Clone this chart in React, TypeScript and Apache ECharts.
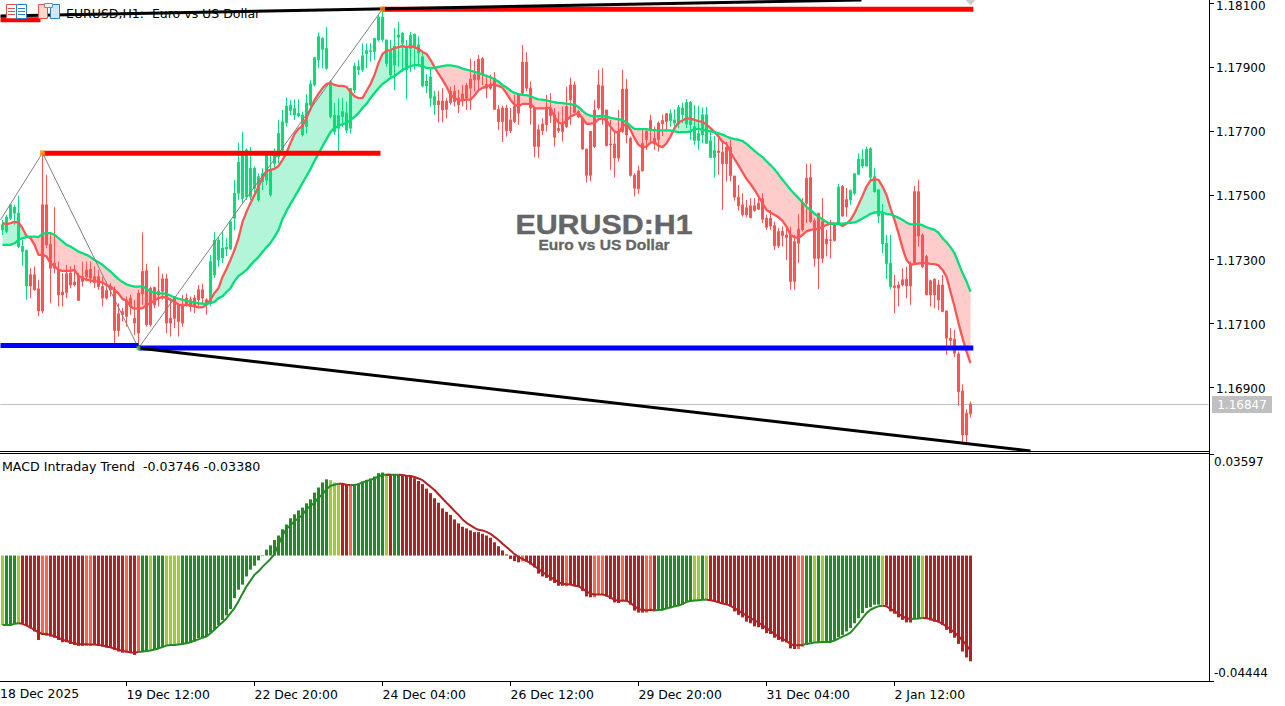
import React, { useEffect, useRef } from "react";
import * as echarts from "echarts";

const FONT = "DejaVu Sans";
const UP = "#00DF78";
const DOWN = "#FF5252";

// prices in 1/100000
const highs = [117423,117439,117473,117470,117498,117361,117330,117272,117278,117236,117629,117564,117382,117463,117293,117257,117283,117278,117283,117257,117293,117293,117293,117278,117267,117246,117231,117226,117215,117163,117148,117184,117189,117174,117205,117384,117286,117215,117215,117278,117255,117255,117179,117184,117163,117189,117194,117184,117189,117220,117224,117179,117314,
117385,117370,117385,117366,117423,117547,117664,117697,117646,117651,117589,117568,117584,117636,117631,117646,117735,117766,117805,117797,117799,117799,117761,117815,117859,117932,118008,117993,118024,117859,117787,117802,117804,117792,117833,117913,117922,117974,117974,117974,117991,118062,118078,117986,117984,118021,118041,118010,117984,118010,118005,117995,117943,117878,
117896,117826,117826,117834,117803,117839,117844,117829,117844,117850,117926,117919,117938,117931,117876,117876,117884,117782,117779,117782,117772,117813,117818,117969,117946,117855,117777,117720,117740,117813,117818,117772,117761,117777,117839,117867,117855,117766,117740,117644,117699,117796,117891,117896,117766,117735,117699,117766,117891,117862,117683,117569,117592,117704,117709,117751,117714,117730,117751,117756,117768,117768,117782,117789,117800,117794,117782,117779,117774,117775,117704,117685,117678,
117667,117667,117673,117560,117532,117506,117485,117491,117491,117491,117506,117439,117454,117418,117397,117402,117397,117402,117376,117441,117491,117598,117598,117428,117444,117491,117392,117423,117413,117535,117532,117522,117517,117569,117631,117643,117652,117650,117584,117517,117473,117376,117376,117251,117231,117272,117277,117293,117529,117548,117381,117314,117236,117241,117236,117251,117139,117085,117080,117012,116910,116832,116856];
const bodyTops = [117408,117432,117470,117463,117444,117340,117328,117252,117252,117208,117470,117470,117347,117288,117267,117198,117255,117257,117229,117250,117246,117267,117269,117246,117246,117215,117203,117215,117205,117130,117137,117168,117179,117116,117194,117262,117264,117210,117212,117200,117239,117239,117116,117179,117158,117158,117179,117174,117179,117205,117205,117174,117293,
117360,117360,117335,117338,117417,117506,117603,117636,117641,117584,117584,117558,117568,117625,117579,117625,117693,117729,117778,117781,117771,117755,117750,117787,117847,117929,117995,117989,117958,117854,117750,117748,117761,117757,117833,117903,117901,117935,117951,117951,117989,118055,118055,117984,117948,117965,118000,118005,117963,117998,118002,117969,117932,117856,
117869,117808,117794,117794,117794,117824,117824,117803,117816,117842,117862,117876,117924,117926,117846,117846,117865,117768,117772,117772,117735,117777,117813,117915,117915,117834,117772,117704,117722,117772,117772,117751,117709,117725,117777,117844,117844,117761,117740,117644,117699,117766,117844,117841,117766,117660,117660,117699,117831,117831,117678,117562,117576,117662,117699,117733,117678,117725,117733,117754,117754,117735,117774,117772,117789,117790,117714,117692,117751,117751,117670,117640,117638,
117634,117650,117650,117560,117494,117470,117461,117467,117467,117475,117489,117428,117428,117405,117387,117387,117376,117374,117355,117394,117477,117553,117555,117420,117444,117418,117363,117361,117407,117525,117527,117487,117515,117567,117612,117612,117643,117645,117558,117517,117444,117350,117288,117217,117220,117236,117238,117286,117511,117511,117376,117309,117233,117238,117220,117220,117139,117054,117051,117005,116889,116820,116849];
const bodyBottoms = [117392,117387,117428,117444,117340,117324,117217,117217,117205,117139,117139,117345,117272,117272,117189,117189,117196,117220,117220,117172,117231,117246,117241,117228,117215,117179,117179,117205,117078,117078,117127,117122,117153,117101,117070,117192,117096,117096,117158,117189,117200,117101,117101,117116,117106,117101,117158,117153,117153,117174,117179,117163,117163,
117251,117298,117304,117332,117332,117428,117506,117490,117495,117495,117521,117485,117542,117547,117501,117599,117620,117641,117726,117764,117750,117748,117688,117714,117781,117844,117922,117955,117896,117745,117698,117709,117745,117703,117709,117828,117891,117891,117941,117948,117948,117984,117986,117911,117875,117906,117993,117974,117891,117958,117963,117943,117841,117841,
117803,117782,117782,117766,117768,117789,117792,117782,117796,117803,117834,117860,117860,117876,117834,117834,117768,117730,117730,117701,117701,117730,117756,117818,117834,117772,117652,117652,117701,117720,117748,117681,117701,117699,117714,117798,117758,117744,117644,117562,117562,117652,117772,117746,117655,117657,117616,117616,117699,117688,117562,117522,117520,117576,117673,117704,117660,117673,117723,117730,117733,117725,117722,117751,117722,117720,117671,117671,117688,117662,117618,117618,117633,
117598,117598,117561,117494,117467,117439,117439,117430,117452,117456,117425,117400,117404,117342,117342,117374,117368,117231,117231,117350,117392,117475,117418,117303,117303,117303,117348,117359,117359,117411,117435,117463,117485,117506,117565,117591,117591,117556,117511,117435,117348,117286,117215,117212,117210,117220,117217,117217,117286,117373,117277,117189,117189,117189,117173,117137,117054,117047,117007,116887,116752,116752,116818];
const lows = [117376,117382,117423,117408,117335,117280,117174,117179,117202,117122,117132,117335,117163,117257,117153,117153,117179,117210,117215,117172,117215,117231,117226,117210,117205,117153,117174,117184,117038,117059,117106,117090,117127,117064,117028,117158,117090,117090,117148,117153,117174,117070,117059,117085,117059,117090,117153,117137,117132,117153,117163,117127,117153,
117242,117276,117288,117310,117329,117391,117485,117475,117485,117485,117495,117480,117516,117532,117495,117579,117599,117631,117714,117750,117735,117743,117683,117693,117776,117839,117896,117896,117891,117740,117688,117636,117714,117693,117693,117818,117875,117885,117896,117917,117922,117979,117979,117901,117865,117828,117901,117885,117799,117885,117891,117901,117837,117818,
117776,117751,117727,117727,117740,117782,117777,117756,117777,117766,117766,117824,117829,117844,117803,117829,117766,117704,117666,117683,117694,117725,117720,117813,117824,117720,117619,117616,117688,117699,117725,117652,117694,117668,117709,117720,117756,117740,117642,117540,117543,117647,117766,117720,117652,117579,117555,117605,117694,117662,117558,117496,117504,117574,117642,117662,117642,117636,117685,117699,117714,117704,117709,117725,117709,117673,117657,117642,117662,117660,117616,117555,117564,
117454,117543,117543,117483,117452,117433,117431,117428,117449,117454,117413,117392,117392,117329,117335,117340,117298,117205,117205,117288,117387,117413,117413,117277,117207,117288,117309,117303,117355,117407,117433,117433,117470,117501,117563,117584,117591,117550,117508,117413,117319,117238,117207,117132,117153,117215,117179,117158,117283,117340,117272,117189,117153,117147,117142,117135,117002,117028,116995,116843,116728,116728,116806];
const bullishRanges = [[0,6],[52,108],[167,178],[209,209],[212,222]];

const fastMA = [117413,117410,117413,117417,117415,117397,117373,117366,117345,117314,117314,117309,117288,117278,117267,117264,117264,117264,117267,117248,117241,117236,117234,117231,117231,117228,117220,117215,117205,117194,117176,117172,117153,117146,117146,117148,117158,117163,117172,117179,117182,117181,117174,117168,117158,117156,117158,117156,117153,117150,117150,117158,117174,
117195,117210,117245,117270,117298,117329,117366,117416,117448,117476,117501,117526,117554,117575,117579,117582,117591,117610,117632,117663,117691,117707,117716,117741,117769,117797,117816,117834,117847,117850,117844,117841,117841,117838,117822,117809,117803,117803,117825,117847,117875,117912,117941,117950,117953,117959,117962,117965,117962,117965,117962,117956,117947,117941,
117922,117900,117879,117860,117839,117813,117803,117796,117796,117798,117798,117811,117827,117835,117839,117844,117844,117841,117835,117818,117798,117782,117777,117785,117785,117785,117772,117771,117771,117772,117772,117744,117727,117722,117733,117746,117751,117756,117740,117723,117723,117725,117737,117740,117733,117714,117699,117694,117714,117723,117704,117678,117657,117649,117652,117664,117666,117654,117650,117662,117683,117709,117727,117733,117740,117739,117735,117731,117729,117720,
117709,117698,117683,117667,117660,117634,117613,117593,117572,117551,117535,117517,117496,117475,117454,117446,117439,117431,117420,117402,117376,117369,117367,117376,117387,117392,117394,117394,117402,117407,117411,117411,117411,117404,117411,117423,117444,117470,117498,117527,117546,117550,117548,117527,117501,117459,117423,117381,117335,117298,117283,117285,117287,117288,117288,117286,117285,117281,117267,117246,117199,117153,117101,117054,117012,116976];
const slowMA = [117345,117345,117345,117350,117361,117366,117369,117371,117371,117369,117380,117382,117382,117376,117366,117356,117345,117340,117332,117324,117319,117314,117307,117298,117291,117283,117272,117262,117250,117238,117229,117222,117218,117215,117215,117217,117207,117200,117196,117194,117194,117192,117187,117181,117177,117174,117170,117168,117165,117163,117162,117161,117163,
117167,117179,117185,117198,117210,117232,117248,117257,117267,117282,117295,117307,117323,117338,117351,117370,117391,117426,117451,117473,117494,117516,117538,117560,117582,117607,117629,117653,117675,117697,117710,117716,117722,117725,117735,117744,117756,117772,117785,117803,117819,117834,117847,117856,117866,117872,117881,117891,117897,117903,117906,117906,117903,117897,
117896,117897,117900,117903,117905,117905,117903,117900,117895,117892,117889,117885,117881,117877,117872,117868,117862,117854,117844,117836,117826,117819,117815,117813,117812,117809,117803,117799,117798,117796,117793,117790,117788,117787,117786,117784,117782,117775,117763,117753,117748,117746,117747,117748,117745,117741,117739,117737,117735,117727,117716,117707,117706,117706,117706,117704,117703,117702,117702,117702,117702,117699,117697,117697,117697,117699,117707,117707,117704,117701,
117699,117697,117693,117689,117683,117678,117675,117673,117669,117660,117649,117638,117628,117619,117606,117594,117581,117565,117548,117533,117517,117504,117491,117477,117463,117454,117442,117433,117425,117416,117411,117411,117411,117411,117413,117414,117415,117420,117427,117434,117442,117446,117447,117446,117442,117440,117435,117430,117423,117415,117409,117409,117411,117406,117400,117396,117392,117383,117366,117353,117338,117319,117288,117257,117231,117199];

const macdHist = [-0.0246,-0.0246,-0.0246,-0.0242,-0.024,-0.0242,-0.0249,-0.0257,-0.0269,-0.0299,-0.0281,-0.0285,-0.0287,-0.0291,-0.0299,-0.0307,-0.0307,-0.0313,-0.0317,-0.032,-0.032,-0.032,-0.032,-0.0317,-0.032,-0.0323,-0.0325,-0.0325,-0.0334,-0.034,-0.0344,-0.0344,-0.0346,-0.0352,-0.0342,-0.0342,-0.034,-0.0338,-0.0334,-0.0331,-0.0323,-0.0317,-0.0317,-0.0317,-0.0314,-0.0314,-0.0311,-0.0307,-0.0305,-0.0293,-0.0289,-0.0285,-0.0273,-0.0263,-0.0246,-0.0228,-0.0212,-0.019,-0.0151,-0.0121,-0.0103,-0.0074,-0.005,-0.0036,-0.0017,-0.0002,
0.0021,0.0036,0.0055,0.0071,0.0093,0.011,0.0132,0.0146,0.016,0.017,0.0185,0.0199,0.0223,0.0241,0.0259,0.027,0.0267,0.0259,0.0255,0.0253,0.025,0.0249,0.025,0.0255,0.0262,0.0268,0.0273,0.028,0.0292,0.0294,0.0285,0.0286,0.0286,0.0286,0.0282,0.0282,0.0282,0.0274,0.0264,0.0253,0.0237,0.0221,0.0203,0.0187,0.0167,0.0155,0.0144,0.0128,0.0114,0.0102,0.0096,0.0089,0.0083,0.0083,0.0077,0.0071,0.0063,0.0047,0.0033,0.0018,0.0004,
-0.0012,-0.002,-0.0024,-0.002,-0.002,-0.0032,-0.0042,-0.0064,-0.0074,-0.0079,-0.0089,-0.0097,-0.0107,-0.0107,-0.0109,-0.0103,-0.0107,-0.0109,-0.0125,-0.0145,-0.0148,-0.0148,-0.0139,-0.0139,-0.0145,-0.0154,-0.0166,-0.0168,-0.0159,-0.0162,-0.0174,-0.0195,-0.0202,-0.0202,-0.0202,-0.019,-0.0196,-0.0195,-0.0192,-0.019,-0.0184,-0.018,-0.0178,-0.0174,-0.0165,-0.0162,-0.0159,-0.0159,-0.0157,-0.0157,-0.0159,-0.0162,-0.0166,-0.0172,-0.0174,-0.018,-0.0198,-0.021,-0.0219,-0.0234,-0.024,-0.0251,-0.0254,-0.0261,-0.0275,-0.0278,-0.0291,-0.0299,-0.0305,-0.0308,-0.0329,-0.0331,-0.0331,-0.0323,-0.0317,-0.0308,-0.0307,-0.0307,-0.0307,-0.0307,-0.0307,-0.0299,-0.0289,-0.0281,-0.0269,-0.0257,-0.024,-0.0222,-0.0204,-0.0186,-0.0183,-0.0174,-0.0174,-0.0174,-0.0177,-0.0198,-0.0206,-0.0219,-0.0228,-0.0237,-0.0237,-0.0222,-0.0222,-0.0219,-0.0222,-0.023,-0.0234,-0.0237,-0.0246,-0.0263,-0.0275,-0.0291,-0.0313,-0.034,-0.0361,-0.03746];
const macdSignal = [-0.0246,-0.0246,-0.0246,-0.0242,-0.024,-0.0242,-0.0248,-0.0255,-0.0263,-0.0272,-0.0278,-0.0278,-0.0282,-0.0286,-0.0291,-0.0299,-0.0302,-0.0307,-0.0311,-0.0314,-0.0314,-0.0314,-0.0315,-0.0315,-0.0317,-0.0318,-0.0323,-0.0325,-0.033,-0.0334,-0.0338,-0.034,-0.0343,-0.0344,-0.0342,-0.034,-0.0338,-0.0336,-0.0333,-0.0329,-0.0324,-0.0319,-0.0317,-0.0317,-0.0315,-0.0313,-0.0311,-0.0307,-0.0301,-0.0297,-0.0291,-0.0287,-0.0275,-0.0263,-0.0249,-0.0236,-0.0222,-0.0204,-0.0186,-0.0162,-0.0135,-0.0109,-0.0089,-0.0068,-0.0056,-0.004,-0.0026,-0.0012,0.0006,0.0039,0.0071,0.0095,0.0107,0.0122,0.0132,0.0144,0.0164,0.0176,0.0187,0.0205,0.0217,0.0235,0.0247,
0.0251,0.0254,0.0254,0.0251,0.025,0.025,0.0253,0.0259,0.0264,0.0268,0.0273,0.028,0.0286,0.0286,0.0286,0.0286,0.0286,0.0285,0.0283,0.0282,0.0278,0.0273,0.0267,0.0255,0.0244,0.0232,0.0217,0.0202,0.0187,0.0173,0.0158,0.0144,0.0128,0.0116,0.0107,0.0098,0.0091,0.0089,0.0084,0.0077,0.0066,0.0055,0.0042,0.003,0.0018,0.0005,-0.0005,-0.0012,-0.002,-0.0026,-0.0038,-0.0047,-0.0059,-0.0068,-0.0076,-0.0085,-0.0094,-0.0101,-0.0102,-0.0103,-0.0107,-0.0109,-0.0117,-0.0127,-0.0135,-0.0138,-0.0138,-0.0138,-0.0142,-0.0148,-0.0157,-0.016,-0.0159,-0.016,-0.0168,-0.018,-0.019,-0.0192,-0.0195,-0.0192,
-0.0195,-0.0193,-0.0192,-0.0187,-0.0184,-0.018,-0.0177,-0.0172,-0.0164,-0.0161,-0.0159,-0.0158,-0.0157,-0.0157,-0.0158,-0.0161,-0.0166,-0.017,-0.0173,-0.0178,-0.0186,-0.0195,-0.0204,-0.0213,-0.0222,-0.023,-0.0237,-0.0247,-0.0257,-0.0267,-0.0278,-0.0287,-0.0295,-0.0302,-0.0314,-0.0318,-0.0318,-0.0317,-0.0313,-0.0311,-0.0308,-0.0307,-0.0306,-0.0306,-0.0306,-0.0301,-0.0294,-0.0287,-0.0281,-0.0273,-0.0257,-0.024,-0.0222,-0.0204,-0.0192,-0.0185,-0.018,-0.0178,-0.018,-0.0189,-0.0198,-0.0206,-0.0216,-0.0222,-0.0225,-0.0224,-0.0223,-0.0221,-0.0222,-0.0225,-0.023,-0.0234,-0.0242,-0.0251,-0.0261,-0.0273,-0.0285,-0.0301,-0.0317,-0.0338];
const histColorRuns = "Y1 G3 Y1 R5 T2 R9 T2 R8 T1 R2 T1 G2 Y1 G3 Y4 G37 Y3 R2 T1 G8 Y1 R1 G2 R30 T1 R10 T1 R6 T3 R4 T1 R5 T2 R1 G9 Y2 G1 Y1 R22 T2 G2 Y1 G1 Y1 G14 Y1 R7 G2 Y1 R12";
const histPalette = { G: "#228B22", Y: "#9ACD32", R: "#B22222", T: "#FF6347" };

// price levels, in the same 1/100000 units
const priceTicks = [116900, 117100, 117300, 117500, 117700, 117900, 118100];
// where each tick's text sits: a hair under its tick, as in the reference
const priceLabelAnchors = [116896, 117096, 117296, 117496, 117696, 117896, 118090];
const priceMin = 116702;
const priceMax = 118109;
const macdTicks = [-0.04444, 0.03597];
const lastPrice = 116847;
const timeTicks = [[31,"19 Dec 12:00"],[63,"22 Dec 20:00"],[95,"24 Dec 04:00"],[127,"26 Dec 12:00"],[159,"29 Dec 20:00"],[191,"31 Dec 04:00"],[223,"2 Jan 12:00"]];
const firstTimeLabel = "18 Dec 2025";

// [bar from, price, bar to, price]
const redLevels = [[-0.5,118047,9.5,118047],[10.25,117631,94.5,117631],[95,118080,242.7,118080]];
const blueLevels = [[-0.5,117031,34,117031],[34,117023,242.7,117023]];
const blackTrends = [[-0.5,118059,214.75,118109],[34,117023,257,116702]];
const zigzag = [[-0.5,117423],[10,117632],[34,117023],[95,118081]];
const orangePivots = [[10,117632],[95,118081]];
const greenPivots = [[34,117023]];
const diamondPivots = [[242,118109]];

const BANDS = 302;
const fmtPrice = (v) => (v / 100000).toFixed(5);
const fmtTick = (v) => fmtPrice(Math.round(v / 100) * 100);

function isBull(i) { return bullishRanges.some(([a, b]) => i >= a && i <= b); }

const candleData = highs.map((h, i) => {
  const t = bodyTops[i], b = bodyBottoms[i];
  return isBull(i) ? [b, t, lows[i], h] : [t, b, lows[i], h];
});
const fast = fastMA, slow = slowMA;

const histKeys = histColorRuns.split(" ").flatMap((r) => Array(Number(r.slice(1))).fill(r[0]));

function buildRuns() {
  const runs = [];
  let cur = null;
  const push = (x, a, b, sign) => {
    if (!cur || cur.sign !== sign) {
      cur = { sign, top: [], bottom: [] };
      runs.push(cur);
    }
    cur.top.push([x, a]);
    cur.bottom.push([x, b]);
  };
  for (let i = 0; i < fast.length - 1; i++) {
    const d0 = fast[i] - slow[i], d1 = fast[i + 1] - slow[i + 1];
    const s0 = d0 >= 0 ? 1 : -1;
    const s1 = d1 >= 0 ? 1 : -1;
    push(i, fast[i], slow[i], s0);
    if (s0 !== s1) {
      const t = d0 / (d0 - d1);
      const xc = i + t;
      const yc = fast[i] + (fast[i + 1] - fast[i]) * t;
      push(xc, yc, yc, s0);
      push(xc, yc, yc, s1);
    }
  }
  const n = fast.length - 1;
  push(n, fast[n], slow[n], fast[n] - slow[n] >= 0 ? 1 : -1);
  return runs;
}

const tl = (name, data, color, width, z = 5) => ({
  name, type: "line", xAxisIndex: 1, yAxisIndex: 0, data, showSymbol: false, symbol: "none", z,
  lineStyle: { color, width }, silent: true, animation: false,
});

export default function App() {
  const ref = useRef(null);
  useEffect(() => {
    document.body.style.margin = "0";
    const chart = echarts.init(ref.current, null, { renderer: "svg" });
    const runs = buildRuns();
    const categories = Array(BANDS).fill("");
    timeTicks.forEach(([i, l]) => { categories[i] = l; });
    const greenKey = (k) => k === "G" || k === "Y";
    const signalUp = macdSignal.map((v, i) => (greenKey(histKeys[i]) || greenKey(histKeys[i + 1]) ? v : null));
    const signalDown = macdSignal.map((v, i) => (!greenKey(histKeys[i]) || (i + 1 < histKeys.length && !greenKey(histKeys[i + 1])) ? v : null));

    const levelSeries = (levels, color, width, name) =>
      levels.map((l, k) => tl(name + k, [[l[0], l[1]], [l[2], l[3]]], color, width, 6));

    chart.setOption({
      animation: false,
      backgroundColor: "#ffffff",
      textStyle: { fontFamily: FONT },
      grid: [
        { left: 0.5, top: 0, width: 1208, height: 451, outerBoundsMode: "none" },
        { left: 0.5, top: 454, width: 1208, height: 227, outerBoundsMode: "none" },
      ],
      xAxis: [
        { type: "category", gridIndex: 0, data: categories, boundaryGap: true, axisLine: { show: false, onZero: false }, axisTick: { show: false }, axisLabel: { show: false } },
        { type: "value", gridIndex: 0, min: -0.5, max: BANDS - 0.5, show: false },
        {
          type: "category", gridIndex: 1, data: categories, boundaryGap: true,
          axisLine: { show: false, onZero: false },
          axisTick: { show: true, alignWithLabel: true, length: 5, interval: (idx, v) => v !== "", lineStyle: { color: "#000" } },
          axisLabel: { show: true, interval: (idx, v) => v !== "", align: "left", margin: 7, color: "#000", fontFamily: FONT, fontSize: 12.4, hideOverlap: false },
        },
      ],
      yAxis: [
        {
          type: "value", gridIndex: 0, position: "right", offset: 1.5, min: priceMin, max: priceMax, scale: true,
          splitLine: { show: false }, axisLine: { show: false, onZero: false },
          axisTick: { show: true, length: 4, customValues: priceTicks, lineStyle: { color: "#000" } },
          axisLabel: { show: true, customValues: priceLabelAnchors, margin: 6, color: "#000", fontFamily: FONT, fontSize: 12, formatter: fmtTick },
        },
        {
          type: "value", gridIndex: 1, position: "right", offset: 1.5, min: -0.04444, max: 0.03597, scale: true,
          splitLine: { show: false }, axisLine: { show: false, onZero: false },
          axisTick: { show: true, length: 4, customValues: macdTicks, lineStyle: { color: "#000" } },
          axisLabel: { show: true, customValues: macdTicks, margin: 4, padding: [2, 0, 2, 0], color: "#000", fontFamily: FONT, fontSize: 12, verticalAlignMinLabel: "bottom", verticalAlignMaxLabel: "top", formatter: (v) => v.toFixed(5) },
        },
      ],
      series: [
        tl("last", [[-0.5, lastPrice], [BANDS - 0.5, lastPrice]], "#C0C0C0", 1, 1),
        {
          name: "cloud", type: "custom", xAxisIndex: 1, yAxisIndex: 0, z: 1, silent: true,
          data: runs.map((r, k) => [r.top[0][0], k]),
          encode: { x: 0 },
          renderItem: (params, api) => {
            const r = runs[params.dataIndex];
            const poly = r.top.concat([...r.bottom].reverse()).map((p) => api.coord(p));
            return { type: "polygon", shape: { points: poly }, style: { fill: r.sign > 0 ? "#B3F5D8" : "#FFCCCC" } };
          },
        },
        {
          name: "EURUSD", type: "candlestick", xAxisIndex: 0, yAxisIndex: 0, z: 2, barWidth: 2, data: candleData,
          itemStyle: { color: UP, color0: DOWN, borderColor: UP, borderColor0: DOWN, borderWidth: 1 },
        },
        { name: "fast", type: "line", xAxisIndex: 0, yAxisIndex: 0, z: 3, data: fast, symbol: "none", lineStyle: { color: "#FF5555", width: 2.3 } },
        { name: "slow", type: "line", xAxisIndex: 0, yAxisIndex: 0, z: 3, data: slow, symbol: "none", lineStyle: { color: UP, width: 2.3 } },
        tl("zigzag", zigzag, "#808080", 1, 4),
        ...levelSeries(redLevels, "#FF0000", 5, "red"),
        ...levelSeries(blueLevels, "#0000FF", 5, "blue"),
        ...levelSeries(blackTrends, "#000000", 3, "black"),
        { name: "orange", type: "scatter", xAxisIndex: 1, yAxisIndex: 0, z: 7, symbol: "rect", symbolSize: 5, data: orangePivots, itemStyle: { color: "#FF8C00" } },
        { name: "green", type: "scatter", xAxisIndex: 1, yAxisIndex: 0, z: 7, symbol: "rect", symbolSize: 4, data: greenPivots, itemStyle: { color: "#32CD32" } },
        { name: "diamond", type: "scatter", xAxisIndex: 1, yAxisIndex: 0, z: 7, clip: false, symbol: "diamond", symbolSize: [10, 11], data: diamondPivots, itemStyle: { color: "#BDBDBD" } },
        {
          name: "hist", type: "bar", xAxisIndex: 2, yAxisIndex: 1, z: 2, barWidth: 3,
          data: macdHist.map((v, i) => ({ value: v, itemStyle: { color: histPalette[histKeys[i]] } })),
        },
        { name: "sigUp", type: "line", xAxisIndex: 2, yAxisIndex: 1, z: 3, data: signalUp, symbol: "none", connectNulls: false, lineStyle: { color: "#228B22", width: 2 } },
        { name: "sigDown", type: "line", xAxisIndex: 2, yAxisIndex: 1, z: 3, data: signalDown, symbol: "none", connectNulls: false, lineStyle: { color: "#B22222", width: 2 } },
      ],
      graphic: [
        { type: "text", z: 0, x: 66, y: 13, style: { text: "EURUSD,H1:  Euro vs US Dollar", fill: "#000", fontFamily: FONT, fontSize: 12.5, textVerticalAlign: "middle" } },
        { type: "text", z: 0, x: 604, y: 224.5, scaleX: 1.085, style: { text: "EURUSD:H1", fill: "#666666", stroke: "#666666", lineWidth: 0.4, fontFamily: "Liberation Sans", fontWeight: "bold", fontSize: 28, textAlign: "center", textVerticalAlign: "middle" } },
        { type: "text", z: 0, x: 604, y: 245, scaleX: 1.11, style: { text: "Euro vs US Dollar", fill: "#666666", stroke: "#666666", lineWidth: 0.3, fontFamily: "Liberation Sans", fontWeight: "bold", fontSize: 14, textAlign: "center", textVerticalAlign: "middle" } },
        { type: "text", z: 10, x: 2, y: 466, style: { text: "MACD Intraday Trend  -0.03746 -0.03380", fill: "#000", fontFamily: FONT, fontSize: 12.6, textVerticalAlign: "middle" } },
        { type: "text", z: 10, x: 0, y: 693, style: { text: firstTimeLabel, fill: "#000", fontFamily: FONT, fontSize: 12.4, textVerticalAlign: "middle" } },
        // axis frame
        { type: "line", z: 10, shape: { x1: 0, y1: 451.5, x2: 1210, y2: 451.5 }, style: { stroke: "#000", lineWidth: 1 } },
        { type: "line", z: 10, shape: { x1: 0, y1: 453.5, x2: 1210, y2: 453.5 }, style: { stroke: "#000", lineWidth: 1 } },
        { type: "line", z: 10, shape: { x1: 0, y1: 681.5, x2: 1210, y2: 681.5 }, style: { stroke: "#000", lineWidth: 1 } },
        { type: "line", z: 10, shape: { x1: 1209.5, y1: 0, x2: 1209.5, y2: 682 }, style: { stroke: "#000", lineWidth: 1 } },
        // last price tag
        { type: "rect", z: 10, shape: { x: 1212, y: 396, width: 60, height: 17 }, style: { fill: "#C0C0C0" } },
        { type: "text", z: 11, x: 1242, y: 405, style: { text: fmtPrice(lastPrice), fill: "#FFFFFF", fontFamily: FONT, fontSize: 12, textAlign: "center", textVerticalAlign: "middle" } },
        // toolbar icons
        { type: "rect", z: 10, shape: { x: 6.5, y: 4.5, width: 10, height: 14 }, style: { fill: "#FFF", stroke: "#E0534A", lineWidth: 1 } },
        { type: "rect", z: 10, shape: { x: 16.5, y: 4.5, width: 10, height: 14 }, style: { fill: "#FFF", stroke: "#2B7FC3", lineWidth: 1 } },
        { type: "line", z: 11, shape: { x1: 8, y1: 8.5, x2: 15, y2: 8.5 }, style: { stroke: "#E0534A", lineWidth: 1 } },
        { type: "line", z: 11, shape: { x1: 8, y1: 11.5, x2: 15, y2: 11.5 }, style: { stroke: "#E0534A", lineWidth: 1 } },
        { type: "line", z: 11, shape: { x1: 8, y1: 14.5, x2: 15, y2: 14.5 }, style: { stroke: "#E0534A", lineWidth: 1 } },
        { type: "line", z: 11, shape: { x1: 18, y1: 8.5, x2: 25, y2: 8.5 }, style: { stroke: "#2B7FC3", lineWidth: 1 } },
        { type: "line", z: 11, shape: { x1: 18, y1: 11.5, x2: 25, y2: 11.5 }, style: { stroke: "#2B7FC3", lineWidth: 1 } },
        { type: "line", z: 11, shape: { x1: 18, y1: 14.5, x2: 25, y2: 14.5 }, style: { stroke: "#2B7FC3", lineWidth: 1 } },
        { type: "rect", z: 10, shape: { x: 38.5, y: 4.5, width: 9, height: 14 }, style: { fill: "#FFD6CC", stroke: "#E0534A", lineWidth: 1 } },
        { type: "rect", z: 10, shape: { x: 50.5, y: 4.5, width: 9, height: 14 }, style: { fill: "#CFE8FA", stroke: "#2B7FC3", lineWidth: 1 } },
        { type: "rect", z: 11, shape: { x: 44.5, y: 3.5, width: 8, height: 4 }, style: { fill: "#EEEEEE", stroke: "#888888", lineWidth: 1 } },
      ],
    });
    return () => chart.dispose();
  }, []);
  return <div ref={ref} style={{ position: "absolute", left: 0, top: 0, width: 1285, height: 706 }} />;
}
